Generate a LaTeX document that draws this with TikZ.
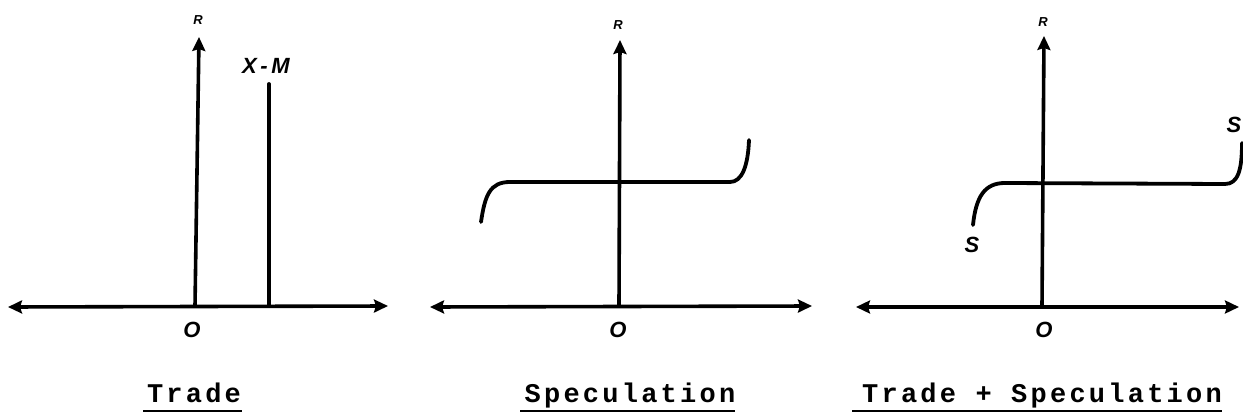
\documentclass[tikz,border=0pt]{standalone}
\usepackage{fontspec}
\setmonofont{Liberation Mono}
\newfontfamily\handfont{Liberation Sans}
\usetikzlibrary{arrows.meta}
\begin{document}
\begin{tikzpicture}[x=1pt,y=-1pt,
  axis/.style={line width=3.6pt,{Stealth[length=14pt,width=13pt,inset=2pt]}-{Stealth[length=14pt,width=13pt,inset=2pt]}},
  yaxis/.style={line width=3.6pt,-{Stealth[length=14pt,width=13pt,inset=2pt]}},
  curve/.style={line width=3.8pt,line cap=round},
  hand/.style={font=\handfont\bfseries\itshape\fontsize{22}{22}\selectfont,inner sep=0pt},
  small/.style={font=\handfont\bfseries\itshape\fontsize{13}{13}\selectfont,inner sep=0pt},
  caption/.style={font=\ttfamily\bfseries\addfontfeature{LetterSpace=12}\fontsize{27}{27}\selectfont,inner sep=0pt,anchor=base},
  uline/.style={line width=2pt}]
\useasboundingbox (0,0) rectangle (1243,415);
% ---------- Panel 1: Trade ----------
\coordinate (a1l) at (8,307);
\coordinate (a1r) at (388,306);
\coordinate (v1b) at (195,306);
\coordinate (v1t) at (199,37);
\coordinate (xmb) at (269,306);
\coordinate (xmt) at (269,84);
\draw[axis] (a1l) -- (a1r);
\draw[yaxis] (v1b) -- (v1t);
\draw[curve] (xmb) -- (xmt);
\node[small] (r1) at (198,20) {R};
\node[hand] (xm) at (266,66) {X\,-\,M};
\node[hand] (o1) at (192,330) {O};
\node[caption] (c1) at (194,402) {Trade};
\coordinate (u1a) at (143,411);
\coordinate (u1b) at (242,411);
\draw[uline] (u1a) -- (u1b);
% ---------- Panel 2: Speculation ----------
\coordinate (a2l) at (430,307);
\coordinate (a2r) at (812,306);
\coordinate (v2b) at (619,306);
\coordinate (v2t) at (620,40);
\draw[axis] (a2l) -- (a2r);
\draw[yaxis] (v2b) -- (v2t);
\coordinate (s2a) at (481,222);
\coordinate (s2b) at (510,182);
\coordinate (s2c) at (730,182);
\coordinate (s2d) at (749,140);
\draw[curve] (s2a) .. controls (485,195) and (490,182) .. (s2b) -- (s2c) .. controls (742,182) and (748,166) .. (s2d);
\node[small] (r2) at (618,25) {R};
\node[hand] (o2) at (618,330) {O};
\node[caption] (c2) at (630,402) {Speculation};
\coordinate (u2a) at (520,411);
\coordinate (u2b) at (735,411);
\draw[uline] (u2a) -- (u2b);
% ---------- Panel 3: Trade + Speculation ----------
\coordinate (a3l) at (856,307);
\coordinate (a3r) at (1239,307);
\coordinate (v3b) at (1042,306);
\coordinate (v3t) at (1044,36);
\draw[axis] (a3l) -- (a3r);
\draw[yaxis] (v3b) -- (v3t);
\coordinate (s3a) at (973,225);
\coordinate (s3b) at (1005,183);
\coordinate (s3c) at (1225,184);
\coordinate (s3d) at (1242,143);
\draw[curve] (s3a) .. controls (976,196) and (985,183) .. (s3b) -- (s3c) .. controls (1238,184) and (1242,170) .. (s3d);
\node[small] (r3) at (1043,22) {R};
\node[hand] (sl) at (972,245) {S};
\node[hand] (sr) at (1234,125) {S};
\node[hand] (o3) at (1044,330) {O};
\node[caption] (c3) at (1042,402) {Trade + Speculation};
\coordinate (u3a) at (852,411);
\coordinate (u3b) at (1222,411);
\draw[uline] (u3a) -- (u3b);
\end{tikzpicture}
\end{document}
